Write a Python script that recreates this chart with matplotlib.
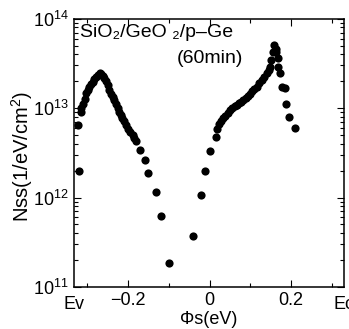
import math
import matplotlib
matplotlib.use("Agg")
import matplotlib.pyplot as plt
from matplotlib.ticker import LogLocator, NullFormatter, FixedLocator

plt.rcParams['font.family'] = ['Liberation Sans', 'DejaVu Sans']
plt.rcParams['mathtext.fontset'] = 'custom'
plt.rcParams['mathtext.rm'] = 'Liberation Sans'
plt.rcParams['mathtext.it'] = 'Liberation Sans:italic'
plt.rcParams['mathtext.default'] = 'regular'

# surface potential (eV) and interface state density (1/eV/cm^2)
phi_s = [-0.320, -0.322, -0.317, -0.315, -0.311, -0.307, -0.303, -0.299, -0.295,
         -0.291, -0.287, -0.283, -0.279, -0.274, -0.270, -0.266, -0.263, -0.260,
         -0.255, -0.250, -0.246, -0.242, -0.238, -0.234, -0.230, -0.226, -0.222,
         -0.218, -0.214, -0.210, -0.205, -0.200, -0.195, -0.189, -0.185, -0.180,
         -0.171, -0.159, -0.151, -0.131, -0.120, -0.101,
         -0.041, -0.021, -0.012, 0.000, 0.016, 0.018, 0.024, 0.028, 0.033, 0.038,
         0.044, 0.050, 0.056, 0.062, 0.067, 0.073, 0.078, 0.083, 0.088, 0.094,
         0.099, 0.105, 0.110, 0.116, 0.122, 0.128, 0.134, 0.140, 0.145, 0.148,
         0.150, 0.155, 0.158, 0.162, 0.164, 0.168, 0.168, 0.172, 0.177, 0.185,
         0.187, 0.195, 0.209]
nss = [2.0e12, 6.5e12, 9.0e12, 1.0e13, 1.12e13, 1.25e13, 1.48e13, 1.6e13, 1.74e13,
       1.85e13, 1.95e13, 2.1e13, 2.24e13, 2.35e13, 2.45e13, 2.4e13, 2.3e13, 2.2e13,
       2.0e13, 1.82e13, 1.6e13, 1.45e13, 1.33e13, 1.23e13, 1.1e13, 1.0e13, 9.1e12,
       8.3e12, 7.7e12, 7.1e12, 6.5e12, 5.9e12, 5.4e12, 5.0e12, 4.6e12, 4.3e12,
       3.4e12, 2.6e12, 1.86e12, 1.15e12, 6.2e11, 1.86e11,
       3.7e11, 1.07e12, 2.0e12, 3.3e12, 4.8e12, 5.9e12, 6.6e12, 7.2e12, 7.7e12, 8.1e12,
       8.8e12, 9.5e12, 1.0e13, 1.05e13, 1.08e13, 1.13e13, 1.18e13, 1.23e13, 1.3e13, 1.37e13,
       1.45e13, 1.55e13, 1.65e13, 1.74e13, 1.9e13, 2.05e13, 2.25e13, 2.5e13, 2.7e13, 2.9e13,
       3.5e13, 4.2e13, 5.1e13, 4.6e13, 4.3e13, 3.6e13, 2.9e13, 2.5e13, 1.74e13, 1.66e13,
       1.1e13, 7.9e12, 6.0e12]

x_ticks = [-0.2, 0, 0.2]
x_ticklabels = ['\u22120.2', '0', '0.2']
edge_labels = ['Ev', 'Ec']
y_ticks = [1e11, 1e12, 1e13, 1e14]

fig = plt.figure(figsize=(3.49, 3.29), dpi=100)
ax = fig.add_axes([0.212, 0.128, 0.774, 0.815])

ax.plot(phi_s, nss, 'o', color='black', markersize=5.9, markeredgewidth=0)

ax.set_yscale('log')
ax.set_xlim(-0.333, 0.330)
ax.set_ylim(1e11, 1e14)

ax.set_xticks(x_ticks)
ax.set_xticklabels(x_ticklabels)
ax.xaxis.set_minor_locator(FixedLocator([-0.3, -0.1, 0.1, 0.3]))
ax.set_yticks(y_ticks)
ax.set_yticklabels([r'$10^{%d}$' % round(math.log10(v)) for v in y_ticks])
ax.yaxis.set_minor_locator(LogLocator(base=10, subs=range(2, 10)))
ax.yaxis.set_minor_formatter(NullFormatter())

ax.tick_params(which='both', direction='in', top=True, right=True, labelsize=13, width=0.8)
ax.tick_params(which='major', length=5, pad=4)
ax.tick_params(which='minor', length=3)
for s in ax.spines.values():
    s.set_linewidth(1.1)

# band edge labels under the axis ends
ax.text(0.0, -0.035, edge_labels[0], transform=ax.transAxes, ha='center', va='top', fontsize=13)
ax.text(1.0, -0.035, edge_labels[1], transform=ax.transAxes, ha='center', va='top', fontsize=13)

ax.set_xlabel('\u03a6s(eV)', fontsize=13, labelpad=1)
ax.set_ylabel('Nss(1/eV/cm$^2$)', fontsize=14.5, labelpad=-2)
ax.yaxis.label.set_y(0.485)

ax.text(0.022, 0.98, 'SiO\u2082/GeO \u2082/p\u2013Ge', transform=ax.transAxes,
        ha='left', va='top', fontsize=14)
ax.text(0.381, 0.885, '(60min)', transform=ax.transAxes, ha='left', va='top', fontsize=14)

fig.savefig('out.png', dpi=100)
